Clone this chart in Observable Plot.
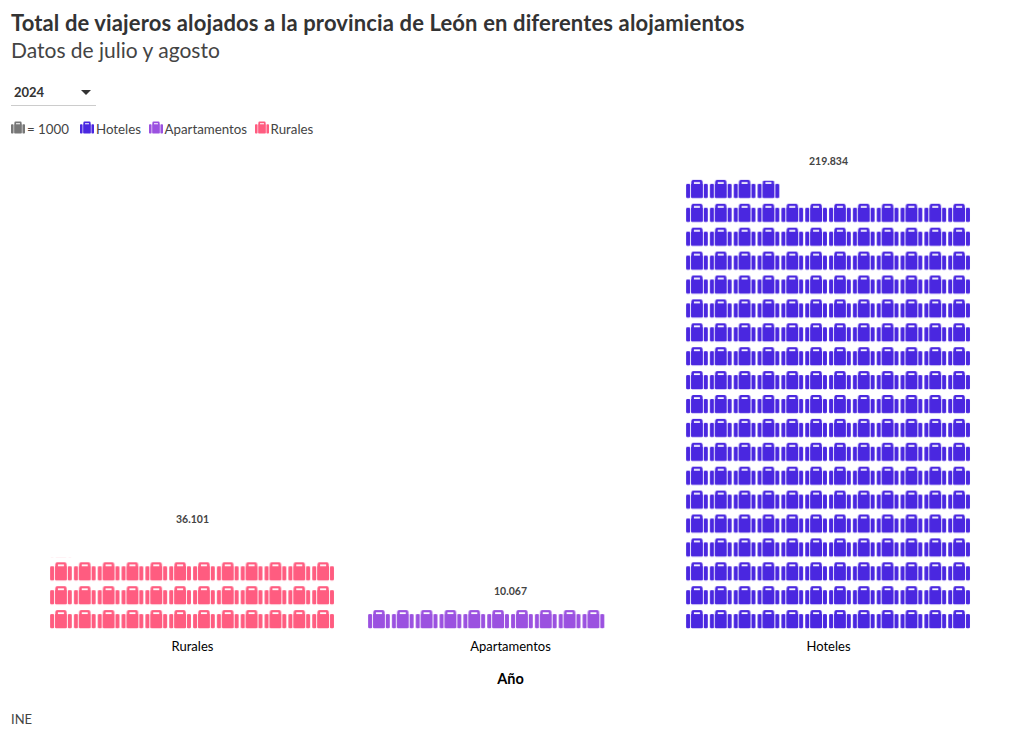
<!DOCTYPE html>
<html>
<head>
<meta charset="utf-8">
<script src="https://cdn.jsdelivr.net/npm/d3@7"></script>
<script src="https://cdn.jsdelivr.net/npm/@observablehq/plot@0.6"></script>
<style>
html,body{margin:0;padding:0;background:#fff;}
body{width:1020px;height:738px;position:relative;overflow:hidden;font-family:"Lato","Noto Sans",sans-serif;color:#333;}
#title{position:absolute;left:11px;top:9px;font-size:22px;font-weight:700;line-height:28px;white-space:nowrap;color:#333;letter-spacing:.13px;}
#sub{position:absolute;left:11px;top:36px;font-size:21px;line-height:28px;white-space:nowrap;color:#444;}
#sel{position:absolute;left:11px;top:81px;width:85px;height:24px;border-bottom:1px solid #ccc;font-size:13px;font-weight:700;line-height:23px;box-sizing:content-box;}
#sel span{margin-left:3px;}
#sel i{position:absolute;left:70px;top:9px;width:0;height:0;border-left:5.5px solid transparent;border-right:5.5px solid transparent;border-top:5px solid #333;}
#legend{position:absolute;left:11px;top:120px;height:18px;display:flex;align-items:center;font-size:13.3px;color:#444;white-space:nowrap;}
#legend svg{display:block;margin-right:2px;margin-top:-3px;}
#legend .it{display:flex;align-items:center;}
#chart{position:absolute;left:0;top:145px;}
#source{position:absolute;left:11px;top:710px;font-size:13px;color:#444;line-height:18px;}
#chart svg{font-family:"Lato","Noto Sans",sans-serif;}
[aria-label="x-axis label"]{font-weight:700;font-size:14.5px;fill:#000;}
[aria-label="x-axis tick label"]{font-size:13px;fill:#000;}
</style>
</head>
<body>
<div id="title">Total de viajeros alojados a la provincia de León en diferentes alojamientos</div>
<div id="sub">Datos de julio y agosto</div>
<div id="sel"><span>2024</span><i></i></div>
<div id="legend"></div>
<div id="chart"></div>
<div id="source">INE</div>
<script>
const categories = ["Rurales", "Apartamentos", "Hoteles"];
const travellers = [36101, 10067, 219834];
const colours = ["#ff5c80", "#9b51e0", "#4a27e0"];
const legendOrder = ["Hoteles", "Apartamentos", "Rurales"];
const perIcon = 1000;
const perRow = 12;

const rows = categories.map((c, i) => ({cat: c, v: travellers[i], units: travellers[i] / perIcon}));
const es = d3.formatLocale({decimal: ",", thousands: ".", grouping: [3]});
const fmt = es.format(",d");

// suitcase icon, drawn in a 21.7 x 18.3 box
const icon = "M1.2 4H2.9A1.1 1.1 0 0 1 4 5.1V17.2A1.1 1.1 0 0 1 2.9 18.3H1.2A1.2 1.2 0 0 1 0 17.1V5.2A1.2 1.2 0 0 1 1.2 4Z" +
  "M18.8 4H20.5A1.2 1.2 0 0 1 21.7 5.2V17.1A1.2 1.2 0 0 1 20.5 18.3H18.8A1.1 1.1 0 0 1 17.7 17.2V5.1A1.1 1.1 0 0 1 18.8 4Z" +
  "M7.2 0H14.5A2 2 0 0 1 16.5 2V4H16.8V17.2A1.1 1.1 0 0 1 15.7 18.3H6A1.1 1.1 0 0 1 4.9 17.2V4H5.2V2A2 2 0 0 1 7.2 0Z" +
  "M7.8 2.4V4H13.9V2.4Z";

function suitcases(index, scales, values, dims, ctx, next) {
  const g = next(index, scales, values, dims, ctx);
  d3.select(g).selectAll("pattern").each(function () {
    const h = +this.getAttribute("height");
    const old = this.firstElementChild;
    const fill = (old && old.getAttribute("fill")) || this.getAttribute("fill") || this.parentNode.getAttribute("fill") || "currentColor";
    while (this.firstChild) this.removeChild(this.firstChild);
    const p = document.createElementNS("http://www.w3.org/2000/svg", "path");
    p.setAttribute("d", icon);
    p.setAttribute("fill", fill);
    p.setAttribute("fill-rule", "evenodd");
    p.setAttribute("transform", `translate(1.1,${(h - 18.3 - 2.7).toFixed(2)})`);
    this.appendChild(p);
  });
  return g;
}

const chart = Plot.plot({
  width: 1020,
  height: 552,
  marginLeft: 17,
  marginRight: 17,
  marginTop: 8,
  marginBottom: 66,
  x: {domain: categories, padding: 0.1, label: "Año", labelAnchor: "center", labelArrow: "none", tickSize: 0, tickPadding: 10, labelOffset: 52},
  y: {domain: [0, 240], axis: null},
  color: {domain: categories, range: colours},
  marks: [
    Plot.waffleY(rows, {x: "cat", y: "units", fill: "cat", unit: 1, multiple: perRow, gap: 0, render: suitcases}),
    Plot.text(rows, {x: "cat", y: d => Math.ceil(d.units / perRow) * perRow, text: d => fmt(d.v), dy: -16, fontSize: 10.5, fontWeight: 700, fill: "#444"})
  ]
});
document.getElementById("chart").appendChild(chart);

// legend
const leg = d3.select("#legend");
function addItem(label, colour, mr) {
  const it = leg.append("div").attr("class", "it").style("margin-right", mr + "px");
  const s = it.append("svg").attr("width", 14).attr("height", 13).attr("viewBox", "0 0 21.7 18.3");
  s.append("path").attr("d", icon).attr("fill", colour).attr("fill-rule", "evenodd");
  it.append("span").text(label);
}
addItem("= 1000", "#777", 11);
legendOrder.forEach(n => addItem(n, colours[categories.indexOf(n)], 7.5));
</script>
</body>
</html>
